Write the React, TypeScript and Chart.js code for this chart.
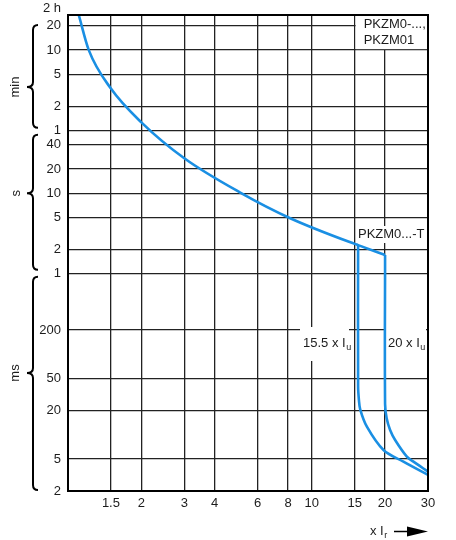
import { useEffect, useRef } from 'react';
import { Chart, registerables } from 'chart.js';

Chart.register(...registerables);

// Multiples of the rated current setting (x Ir)
const X_TICKS = [1.5, 2, 3, 4, 6, 8, 10, 15, 20, 30];
const X_LABELS = ['1.5', '2', '3', '4', '6', '8', '10', '15', '20', '30'];

// Tripping time axis, in seconds (labels shown per unit band: ms / s / min)
const Y_TICKS = [0.002, 0.005, 0.02, 0.05, 0.2, 1, 2, 5, 10, 20, 40, 60, 120, 300, 600, 1200];
const Y_LABELS = ['2', '5', '20', '50', '200', '1', '2', '5', '10', '20', '40', '1', '2', '5', '10', '20'];
const Y_MIN = 0.002;
const Y_MAX = 1640;
const X_MIN = 1;
const X_MAX = 30;

// Overload release curve (seconds)
const MAIN_X = [1.107, 1.217, 1.5, 2, 3, 5.09, 8.16, 15, 15.5, 20];
const MAIN_T = [1640, 600, 200, 76, 27.2, 10.2, 4.9, 2.35, 2.27, 1.71];

// Short-circuit release, PKZM0...-T (15.5 x Iu)
const TRIP155_X = [15.5, 15.5, 15.62, 15.81, 16.84, 19.7, 23.78, 30];
const TRIP155_T = [2.27, 0.04, 0.027, 0.0207, 0.0126, 0.00647, 0.00463, 0.00317];

// Short-circuit release, PKZM0/PKZM01 (20 x Iu)
const TRIP20_X = [20, 20, 20.3, 20.97, 21.99, 24.56, 26.14, 30];
const TRIP20_T = [1.71, 0.024, 0.016, 0.01147, 0.00861, 0.00535, 0.00463, 0.00348];

const FONT = '"Liberation Sans", Arial, sans-serif';
const FS = 13;
const TEXT = '#1c1c1c';
const BLUE = '#1a8fe3';
const GRID = '#222';

const pts = (xs: number[], ts: number[]) => xs.map((x, i) => ({ x, y: ts[i] }));

function textWithSub(ctx: CanvasRenderingContext2D, x: number, y: number, main: string, sub: string) {
  ctx.textAlign = 'left';
  ctx.textBaseline = 'middle';
  ctx.font = `${FS}px ${FONT}`;
  ctx.fillText(main, x, y);
  const w = ctx.measureText(main).width;
  ctx.font = `9px ${FONT}`;
  ctx.fillText(sub, x + w + 0.5, y + 5);
}

function brace(ctx: CanvasRenderingContext2D, x: number, y1: number, y2: number, ym: number) {
  const r = 5;
  ctx.beginPath();
  ctx.moveTo(x + r, y1);
  ctx.quadraticCurveTo(x, y1, x, y1 + r);
  ctx.lineTo(x, ym - r);
  ctx.quadraticCurveTo(x, ym, x - 6, ym);
  ctx.quadraticCurveTo(x, ym, x, ym + r);
  ctx.lineTo(x, y2 - r);
  ctx.quadraticCurveTo(x, y2, x + r, y2);
  ctx.stroke();
}

function rotatedText(ctx: CanvasRenderingContext2D, s: string, x: number, y: number) {
  ctx.save();
  ctx.translate(x, y);
  ctx.rotate(-Math.PI / 2);
  ctx.textAlign = 'center';
  ctx.textBaseline = 'middle';
  ctx.fillText(s, 0, 0);
  ctx.restore();
}

const decorations = {
  id: 'decorations',
  beforeDatasetsDraw(chart: any) {
    const { ctx, chartArea: a, scales } = chart;
    const xs = scales.x;
    const ys = scales.y;
    ctx.save();
    ctx.fillStyle = '#fff';
    // Legend cell in the top-right corner
    const lx = xs.getPixelForValue(15);
    const ly = ys.getPixelForValue(600);
    ctx.fillRect(lx + 1, a.top + 1, a.right - lx - 2, ly - a.top - 2);
    // Label backgrounds
    ctx.fillRect(357, 226, 69, 17);
    ctx.fillRect(300, 327, 49, 34);
    ctx.fillRect(386, 327, 40, 34);

    ctx.fillStyle = TEXT;
    ctx.font = `${FS}px ${FONT}`;
    ctx.textAlign = 'left';
    ctx.textBaseline = 'middle';
    ctx.fillText('PKZM0-...,', lx + 9, a.top + 9);
    ctx.fillText('PKZM01', lx + 9, a.top + 25);
    ctx.fillText('PKZM0...-T', 358, 234);
    textWithSub(ctx, 303, 343, '15.5 x I', 'u');
    textWithSub(ctx, 388, 343, '20 x I', 'u');
    ctx.restore();
  },
  afterDatasetsDraw(chart: any) {
    const { ctx, chartArea: a, scales } = chart;
    const ys = scales.y;
    ctx.save();
    // Frame
    ctx.strokeStyle = '#000';
    ctx.lineWidth = 2;
    ctx.strokeRect(a.left, a.top, a.right - a.left, a.bottom - a.top);

    // Top label of the time axis
    ctx.fillStyle = TEXT;
    ctx.font = `${FS}px ${FONT}`;
    ctx.textAlign = 'right';
    ctx.textBaseline = 'middle';
    ctx.fillText('2 h', a.left - 7, 8);

    // Unit braces
    ctx.lineWidth = 2;
    const p = (v: number) => ys.getPixelForValue(v);
    brace(ctx, 33, p(1200) - 1, p(60) - 3, 87);
    brace(ctx, 33, p(60) + 4, p(1) - 4, p(10));
    brace(ctx, 33, p(1) + 3, a.bottom - 1, 373);
    ctx.font = `${FS}px ${FONT}`;
    rotatedText(ctx, 'min', 15, 87);
    rotatedText(ctx, 's', 16, p(10));
    rotatedText(ctx, 'ms', 15, 373);

    // x-axis title with arrow
    textWithSub(ctx, 370, 531, 'x I', 'r');
    ctx.beginPath();
    ctx.lineWidth = 1.5;
    ctx.moveTo(394, 531.5);
    ctx.lineTo(409, 531.5);
    ctx.stroke();
    ctx.beginPath();
    ctx.moveTo(407, 526.5);
    ctx.lineTo(428, 531.5);
    ctx.lineTo(407, 536.5);
    ctx.closePath();
    ctx.fillStyle = '#000';
    ctx.fill();
    ctx.restore();
  },
};

export default function App() {
  const ref = useRef<HTMLCanvasElement | null>(null);

  useEffect(() => {
    if (!ref.current) return;
    const line = (data: { x: number; y: number }[], smooth: any) => ({
      data,
      borderColor: BLUE,
      borderWidth: 2.6,
      pointRadius: 0,
      fill: false,
      ...smooth,
    });
    const chart = new Chart(ref.current, {
      type: 'line',
      data: {
        datasets: [
          line(pts(MAIN_X, MAIN_T), { cubicInterpolationMode: 'monotone' }),
          line(pts(TRIP155_X, TRIP155_T), { tension: 0.35 }),
          line(pts(TRIP20_X, TRIP20_T), { tension: 0.35 }),
        ],
      },
      options: {
        responsive: false,
        animation: false,
        devicePixelRatio: 1,
        layout: { padding: { left: 0, top: 15, right: 28, bottom: 0 } },
        plugins: { legend: { display: false }, tooltip: { enabled: false } },
        scales: {
          x: {
            type: 'logarithmic',
            min: X_MIN,
            max: X_MAX,
            afterFit: (s: any) => {
              s.height = 49;
            },
            afterBuildTicks: (s: any) => {
              s.ticks = X_TICKS.map((v) => ({ value: v }));
            },
            ticks: {
              autoSkip: false,
              maxRotation: 0,
              padding: 5,
              color: TEXT,
              font: { family: FONT, size: FS },
              callback: (_v: any, i: number) => X_LABELS[i],
            },
            grid: { color: GRID, lineWidth: 1.3, drawTicks: false },
            border: { color: '#000', width: 2 },
          },
          y: {
            type: 'logarithmic',
            min: Y_MIN,
            max: Y_MAX,
            afterFit: (s: any) => {
              s.width = 68;
            },
            afterBuildTicks: (s: any) => {
              s.ticks = Y_TICKS.map((v) => ({ value: v }));
            },
            ticks: {
              autoSkip: false,
              padding: 7,
              color: TEXT,
              font: { family: FONT, size: FS },
              callback: (_v: any, i: number) => Y_LABELS[i],
            },
            grid: { color: GRID, lineWidth: 1.3, drawTicks: false },
            border: { color: '#000', width: 2 },
          },
        },
      },
      plugins: [decorations],
    } as any);
    return () => chart.destroy();
  }, []);

  return (
    <div style={{ position: 'absolute', left: 0, top: 0, width: 456, height: 540, background: '#fff' }}>
      <canvas ref={ref} width={456} height={540} style={{ width: 456, height: 540, display: 'block' }} />
    </div>
  );
}
